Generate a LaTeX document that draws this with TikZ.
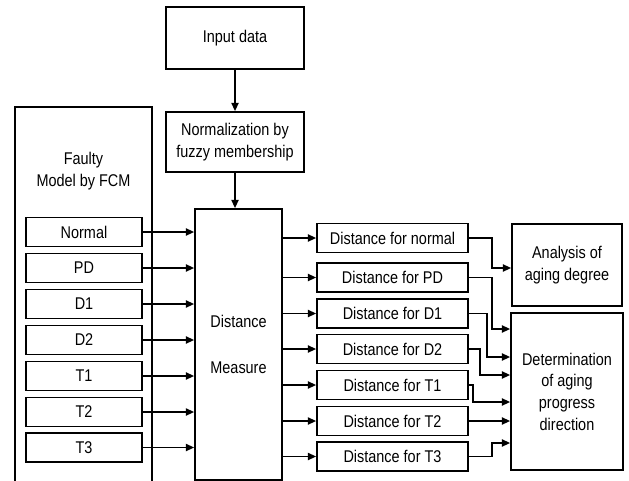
\documentclass[tikz,border=0pt]{standalone}
\usepackage{fontspec}
\setmainfont{Liberation Sans}[FakeStretch=0.85]
\usetikzlibrary{arrows.meta}

\begin{document}
\begin{tikzpicture} [
                x=0.03cm,
                y=-0.03cm,
                every node/.style={font=\fontsize{14.5}{18.5}\selectfont},
                block/.style={draw,rectangle,line width=1.4pt,inner sep=0pt,align=center},
                state box/.style={block,minimum width=3.48cm,minimum height=0.88cm},
                dist box/.style={block,minimum width=4.53cm,minimum height=0.87cm},
                link/.style={draw,line width=1.4pt,-{Triangle[length=7pt,width=6pt]}}
            ]
            \useasboundingbox (0,0) rectangle (629,480);
            % First we draw the input chain
            \node[block,minimum width=4.14cm,minimum height=1.86cm] (inp) at (235,38) {Input data};
            \node[block,minimum width=4.14cm,minimum height=1.8cm] (norm) at (235,142) {Normalization by\\fuzzy membership};
            % faulty model box with its states
            \node[block,minimum width=4.11cm,minimum height=11.34cm] (fcm) at (83.5,296) {};
            \node[align=center] (fcmtxt) at (83.5,171) {Faulty\\Model by FCM};
            \foreach \y/\name/\txt in {232/normal/Normal, 268/pd/PD, 304/d1/D1, 340/d2/D2,
                                       376/t1/T1, 412/t2/T2, 447.5/t3/T3}
                \node[state box] (\name) at (84,\y) {\txt};
            % distance measure and its outputs
            \node[block,minimum width=2.61cm,minimum height=8.13cm] (dm) at (238.5,344.5) {Distance\\[21pt]Measure};
            \foreach \y/\name/\txt in {238/normal/normal, 277.5/pd/PD, 313.5/d1/D1, 349/d2/D2,
                                       385/t1/T1, 421/t2/T2, 456.5/t3/T3}
                \node[dist box] (d\name) at (392.5,\y) {Distance for \txt};
            \node[block,minimum width=3.3cm,minimum height=2.46cm] (ana) at (567,265) {Analysis of\\aging degree};
            \node[block,minimum width=3.36cm,minimum height=4.71cm] (det) at (567,391.5) {Determination\\of aging\\progress\\direction};
            % Connect the blocks
            \path[link] (inp) -- (norm);
            \path[link] (norm.south) -- (norm.south |- dm.north);
            \foreach \name in {normal,pd,d1,d2,t1,t2,t3} {
                \path[link] (\name.east) -- (\name.east -| dm.west);
                \path[link] (dm.east |- d\name.west) -- (d\name.west);
            }
            \path[link] (dnormal.east) -| (492,268) -- (ana.west |- 0,268);
            \foreach \name/\bx/\ty in {pd/492/329, d1/487/357, d2/480/375, t1/473/402, t3/492/443}
                \path[link] (d\name.east) -| (\bx,\ty) -- (det.west |- 0,\ty);
            \path[link] (dt2.east) -- (dt2.east -| det.west);
        \end{tikzpicture}
\end{document}
